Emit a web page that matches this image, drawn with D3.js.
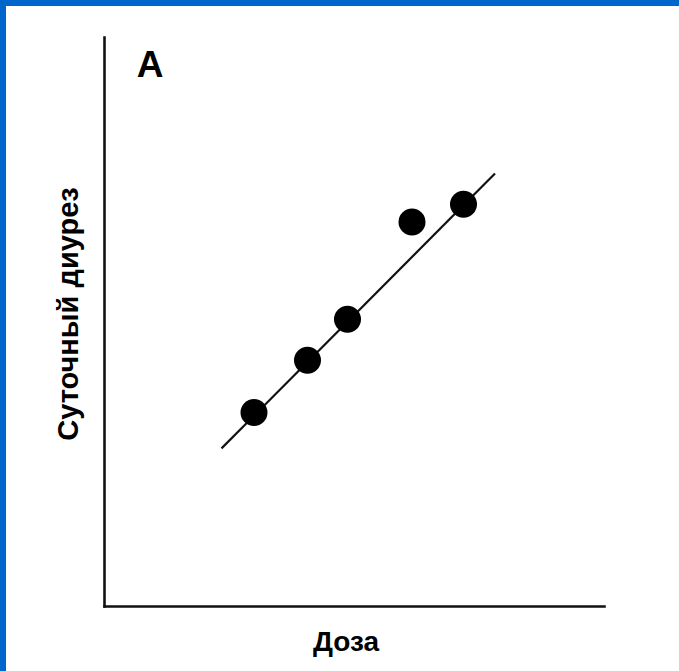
<!DOCTYPE html>
<html>
<head>
<meta charset="utf-8">
<script src="https://cdn.jsdelivr.net/npm/d3@7"></script>
<style>
  html, body { margin: 0; padding: 0; background: #fff; }
  svg { display: block; }
</style>
</head>
<body>
<script>
// Data (arbitrary units)
const doseValues = [3.0, 4.07, 4.87, 6.16, 7.19];
const diuresisValues = [3.40, 4.32, 5.04, 6.75, 7.06];
const fitLineX = [2.35, 7.82];
const fitLineY = [2.77, 7.60];
const panelLabel = "A";
const xTitle = "Доза";
const yTitle = "Суточный диурез";

const W = 679, H = 671;
const svg = d3.select("body").append("svg").attr("width", W).attr("height", H);

// frame border (blue, top and left)
svg.append("rect").attr("x", 0).attr("y", 0).attr("width", W).attr("height", 6).attr("fill", "#0066cc");
svg.append("rect").attr("x", 0).attr("y", 0).attr("width", 6).attr("height", H).attr("fill", "#0066cc");

const x = d3.scaleLinear().domain([0, 10]).range([104, 604]);
const y = d3.scaleLinear().domain([0, 10]).range([606, 37]);

svg.append("g").attr("transform", `translate(0,${y(0)})`)
  .call(d3.axisBottom(x).tickValues([]).tickSizeOuter(0));
svg.append("g").attr("transform", `translate(${x(0)},0)`)
  .call(d3.axisLeft(y).tickValues([]).tickSizeOuter(0));
svg.selectAll(".domain").attr("stroke", "#111").attr("stroke-width", 2.6).attr("stroke-linecap", "square");

// regression line
const pts = fitLineX.map((v, i) => [v, fitLineY[i]]);
svg.append("path")
  .attr("d", d3.line().x(d => x(d[0])).y(d => y(d[1]))(pts))
  .attr("stroke", "#111").attr("stroke-width", 2.2).attr("fill", "none");

// points
svg.selectAll("circle.pt").data(doseValues.map((v, i) => [v, diuresisValues[i]]))
  .enter().append("circle").attr("class", "pt")
  .attr("cx", d => x(d[0])).attr("cy", d => y(d[1])).attr("r", 13.5).attr("fill", "#000");

// texts
svg.append("text").attr("x", 150).attr("y", 77).attr("text-anchor", "middle")
  .attr("font-family", "Liberation Sans, Arial, sans-serif").attr("font-weight", "bold")
  .attr("font-size", 37).attr("fill", "#000").text(panelLabel);

svg.append("text").attr("x", 346).attr("y", 651).attr("text-anchor", "middle")
  .attr("font-family", "Liberation Sans, Arial, sans-serif").attr("font-weight", "bold")
  .attr("font-size", 28).attr("fill", "#000").text(xTitle);

svg.append("text").attr("transform", "translate(78,314) rotate(-90)").attr("text-anchor", "middle")
  .attr("font-family", "Liberation Sans, Arial, sans-serif").attr("font-weight", "bold")
  .attr("font-size", 29).attr("fill", "#000").text(yTitle);
</script>
</body>
</html>
